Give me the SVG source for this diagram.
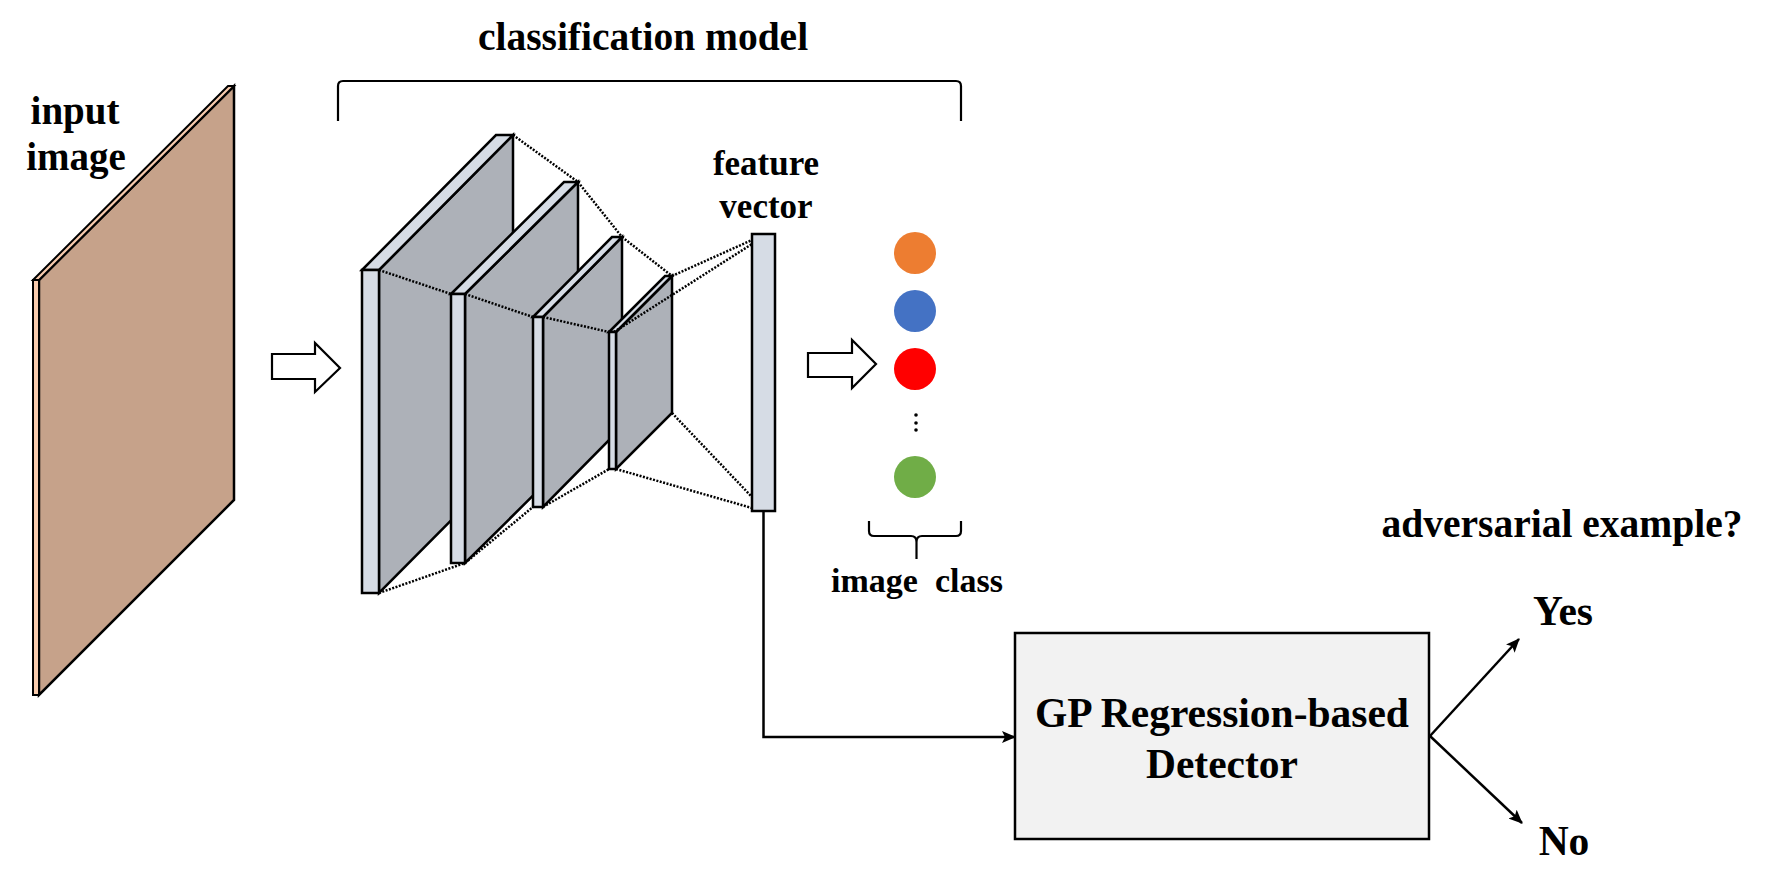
<svg xmlns="http://www.w3.org/2000/svg" width="1767" height="893" viewBox="0 0 1767 893">
<style>
.t{font-family:"Liberation Serif","Times New Roman",serif;font-weight:bold;fill:#000;text-anchor:middle}
.edge{stroke:#000;stroke-width:2.5;stroke-linejoin:miter}
.strip{fill:#D6DCE5}
.face{fill:#ADB1B8}
.dot{fill:none;stroke:#000;stroke-width:2.5;stroke-dasharray:2 1.5}
.conn{fill:none;stroke:#000;stroke-width:2.5}
.hollow{fill:#fff;stroke:#000;stroke-width:2.2}
.brace{fill:none;stroke:#000;stroke-width:2.2}
</style>
<defs>
<marker id="ah" markerUnits="userSpaceOnUse" markerWidth="14" markerHeight="12" refX="13" refY="6" orient="auto">
<path d="M0,0 L14,6 L0,12 L3,6 Z" fill="#000"/>
</marker>
</defs>
<rect width="1767" height="893" fill="#fff"/>

<g id="title">
<text class="t" x="643" y="50" font-size="39.5">classification model</text>
<path class="brace" d="M338,121 L338,86 Q338,81 343,81 L956,81 Q961,81 961,86 L961,121"/>
</g>

<g id="input-image">
<text class="t" x="75" y="124" font-size="39">input</text>
<text class="t" x="76" y="170" font-size="39">image</text>
<polygon points="39,280 234,86 234,500 39,695" fill="#C6A28A" stroke="#000" stroke-width="2.5"/>
<polygon points="33,280 228,86 234,86 39,280" fill="#F8CBAD" stroke="#000" stroke-width="2"/>
<polygon points="33,280 39,280 39,695 33,695" fill="#F8CBAD" stroke="#000" stroke-width="2"/>
</g>

<g id="cnn">
<g id="layer1">
<polygon class="face edge" points="379,270 513,135 513,458 379,593"/>
<polygon class="strip edge" points="362,270 496,135 513,135 379,270"/>
<rect class="strip edge" x="362" y="270" width="17" height="323"/>
</g>
<path class="dot" d="M513,135 L578,182 M379,270 L451,294 M379,593 L465,563"/>
<g id="layer2">
<polygon class="face edge" points="465,294 578,182 578,451 465,563"/>
<polygon class="strip edge" points="451,294 564,182 578,182 465,294"/>
<rect class="strip edge" x="451" y="294" width="14" height="269"/>
</g>
<path class="dot" d="M578,182 L622,237 M465,294 L533,317 M465,563 L533,507"/>
<g id="layer3">
<polygon class="face edge" points="543,317 622,237 622,427 543,507"/>
<polygon class="strip edge" points="533,317 612,237 622,237 543,317"/>
<rect class="strip edge" x="533" y="317" width="10" height="190"/>
</g>
<path class="dot" d="M622,237 L672,276 M543,317 L609,332 M543,507 L609,469"/>
<g id="layer4">
<polygon class="face edge" points="616,332 672,276 672,413 616,469"/>
<polygon class="strip edge" points="609,332 665,276 672,276 616,332"/>
<rect class="strip edge" x="609" y="332" width="7" height="137"/>
</g>
<path class="dot" d="M672,276 L752,240 M614,332 L752,244 M672,413 L752,497 M616,469 L752,508"/>
</g>

<g id="feature-vector">
<text class="t" x="766" y="175" font-size="35">feature</text>
<text class="t" x="766" y="218" font-size="35">vector</text>
<rect class="strip edge" x="752" y="234" width="23" height="277"/>
</g>

<g id="image-class">
<circle cx="915" cy="253" r="21" fill="#ED7D31"/>
<circle cx="915" cy="311" r="21" fill="#4472C4"/>
<circle cx="915" cy="369" r="21" fill="#FF0000"/>
<circle cx="916" cy="415" r="1.8" fill="#000"/>
<circle cx="916" cy="423" r="1.8" fill="#000"/>
<circle cx="916" cy="430" r="1.8" fill="#000"/>
<circle cx="915" cy="477" r="21" fill="#70AD47"/>
<path class="brace" d="M869,521 L869,531 Q869,536 874,536 L911,536 Q916.5,536 916.5,542 L916.5,559 M916.5,542 Q916.5,536 922,536 L956,536 Q961,536 961,531 L961,521"/>
<text class="t" x="917" y="592" font-size="34" xml:space="preserve">image  class</text>
</g>

<g id="detector">
<rect x="1015" y="633" width="414" height="206" fill="#F2F2F2" stroke="#000" stroke-width="2.5"/>
<text class="t" x="1222" y="727" font-size="41.5">GP Regression-based</text>
<text class="t" x="1222" y="778" font-size="41.5">Detector</text>
</g>

<g id="outputs">
<text class="t" x="1562" y="537" font-size="39.5">adversarial example?</text>
<text class="t" x="1563" y="625" font-size="41.5">Yes</text>
<text class="t" x="1564" y="855" font-size="41.5">No</text>
</g>

<g id="connectors">
<polygon class="hollow" points="272,354 315,354 315,343 340,368 315,392 315,379 272,379"/>
<polygon class="hollow" points="808,353 852,353 852,340 876,364 852,388 852,377 808,377"/>
<path class="conn" d="M763.5,511 L763.5,737 L1015,737" marker-end="url(#ah)"/>
<path class="conn" d="M1430,736 L1519,639" marker-end="url(#ah)"/>
<path class="conn" d="M1430,736 L1522,823" marker-end="url(#ah)"/>
</g>
</svg>
